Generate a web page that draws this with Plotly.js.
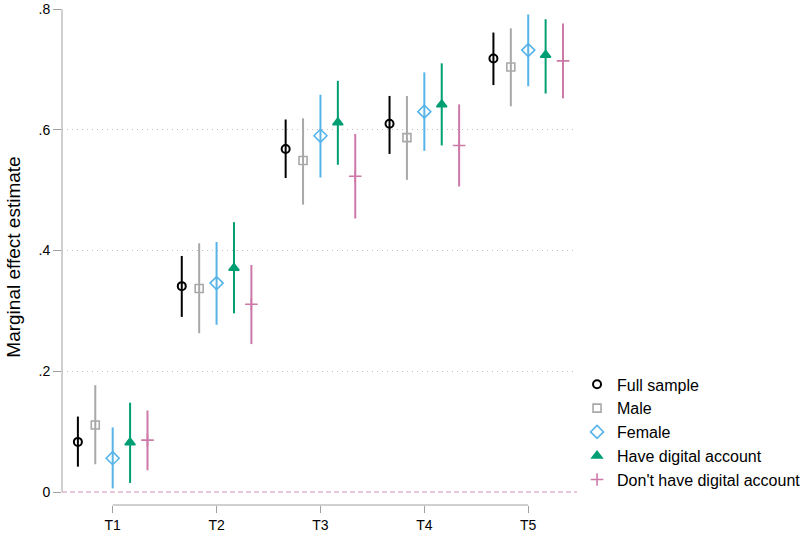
<!DOCTYPE html>
<html>
<head>
<meta charset="utf-8">
<script src="https://cdn.plot.ly/plotly-3.0.1.min.js"></script>
<style>html,body{margin:0;padding:0;background:#fff;}#chart{width:802px;height:534px;}</style>
</head>
<body>
<div id="chart"></div>
<script>
var categories = ["T1", "T2", "T3", "T4", "T5"];
var seriesNames = ["Full sample", "Male", "Female", "Have digital account", "Don't have digital account"];

var fullEst = [0.083, 0.341, 0.568, 0.610, 0.718];
var fullLo  = [0.042, 0.290, 0.520, 0.560, 0.674];
var fullHi  = [0.125, 0.391, 0.617, 0.656, 0.761];

var maleEst = [0.111, 0.337, 0.549, 0.587, 0.704];
var maleLo  = [0.046, 0.263, 0.476, 0.517, 0.639];
var maleHi  = [0.177, 0.412, 0.619, 0.656, 0.768];

var femaleEst = [0.056, 0.346, 0.590, 0.630, 0.732];
var femaleLo  = [0.006, 0.277, 0.521, 0.565, 0.672];
var femaleHi  = [0.107, 0.414, 0.658, 0.695, 0.791];

var digEst = [0.082, 0.371, 0.612, 0.642, 0.724];
var digLo  = [0.015, 0.296, 0.542, 0.574, 0.660];
var digHi  = [0.148, 0.447, 0.681, 0.710, 0.783];

var noDigEst = [0.086, 0.311, 0.523, 0.574, 0.714];
var noDigLo  = [0.036, 0.245, 0.453, 0.506, 0.652];
var noDigHi  = [0.135, 0.376, 0.593, 0.642, 0.776];

var estimates = [fullEst, maleEst, femaleEst, digEst, noDigEst];
var lows = [fullLo, maleLo, femaleLo, digLo, noDigLo];
var highs = [fullHi, maleHi, femaleHi, digHi, noDigHi];

var colors = ["#000000", "#a8a8a8", "#56b4e9", "#009e73", "#cc79a7"];
var symbols = ["circle-open", "square-open", "diamond-open", "triangle-up", "cross-thin-open"];
var sizes = [8, 8, 10, 9, 9];
var lineWidths = [2, 1.6, 1.6, 1.5, 1.6];
var offsets = [-0.335, -0.1675, 0, 0.1675, 0.335];

var traces = [];
for (var s = 0; s < seriesNames.length; s++) {
  var xs = [], plus = [], minus = [];
  for (var i = 0; i < categories.length; i++) {
    xs.push(i + 1 + offsets[s]);
    plus.push(highs[s][i] - estimates[s][i]);
    minus.push(estimates[s][i] - lows[s][i]);
  }
  traces.push({
    type: "scatter",
    mode: "markers",
    name: seriesNames[s],
    legendgroup: "g" + s,
    x: xs,
    y: estimates[s],
    error_y: {type: "data", symmetric: false, array: plus, arrayminus: minus, color: colors[s], thickness: 2, width: 0},
    marker: {symbol: symbols[s], size: sizes[s], color: colors[s], line: {color: colors[s], width: lineWidths[s]}}
  });
}

var tickPositions = categories.map(function (c, i) { return i + 1; });

var layout = {
  width: 802, height: 534,
  margin: {l: 62, r: 222, t: 9, b: 29},
  paper_bgcolor: "#ffffff", plot_bgcolor: "#ffffff",
  font: {family: "Liberation Sans, Arial, sans-serif", size: 14, color: "#000"},
  showlegend: true,
  legend: {xref: "container", yref: "container", x: 0.7195, xanchor: "left", y: 0.312, yanchor: "top",
           font: {size: 16}, tracegroupgap: 0, traceorder: "grouped", bgcolor: "rgba(0,0,0,0)"},
  xaxis: {
    range: [0.512, 5.47], showgrid: false, zeroline: false, showline: false,
    tickmode: "array", tickvals: tickPositions, ticktext: categories,
    ticks: "outside", ticklen: 7, tickcolor: "#a0a0a0", tickwidth: 1,
    tickfont: {size: 14}
  },
  yaxis: {
    range: [-0.0215, 0.8], showline: false,
    tickmode: "array", tickvals: [0, 0.2, 0.4, 0.6, 0.8], ticktext: ["0", ".2", ".4", ".6", ".8"],
    ticks: "outside", ticklen: 8, tickcolor: "#a0a0a0", tickfont: {size: 14},
    showgrid: true, gridcolor: "#c0c0c0", griddash: "1px,4px", gridwidth: 1,
    zeroline: true, zerolinecolor: "rgba(0,0,0,0)",
    title: {text: "Marginal effect estimate", font: {size: 19}, standoff: 12}
  },
  shapes: [
    {type: "line", xref: "paper", yref: "y", x0: 0, x1: 0, y0: 0, y1: 0.8, line: {color: "#a0a0a0", width: 1}},
    {type: "line", xref: "x", yref: "paper", x0: tickPositions[0], x1: tickPositions[tickPositions.length - 1], y0: 0, y1: 0, line: {color: "#a0a0a0", width: 1}},
    {type: "line", xref: "paper", yref: "y", x0: 0, x1: 1, y0: 0, y1: 0, line: {color: "#d58fbb", width: 1, dash: "5px,3px"}}
  ]
};

Plotly.newPlot("chart", traces, layout, {displayModeBar: false, staticPlot: true});
</script>
</body>
</html>
